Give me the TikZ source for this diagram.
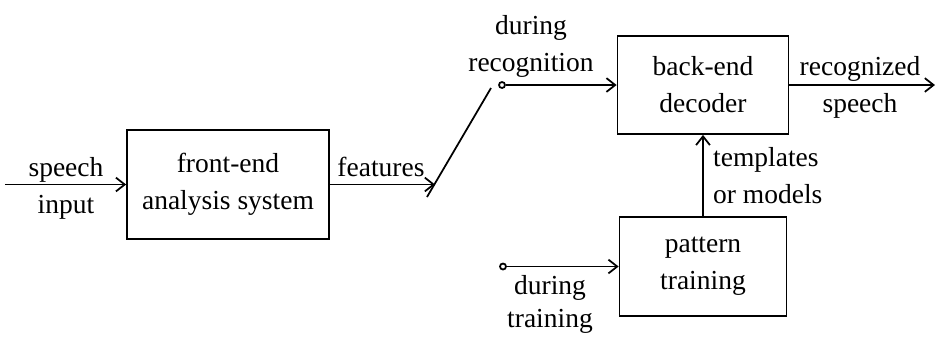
\documentclass[tikz,border=0pt]{standalone}
\usepackage{fontspec}
\setmainfont{Liberation Serif}
\usepackage{tikz}
\usetikzlibrary{arrows.meta}

\begin{document}
\begin{tikzpicture}[x=0.4pt,y=-0.4pt,line width=0.7pt,
  >={Straight Barb[length=3.5pt,width=5.5pt]},
  every node/.style={font=\fontsize{11}{14.8}\selectfont},
  block/.style={draw,align=center,inner sep=0pt},
  lbl/.style={align=center},
  contact/.style={draw,shape=circle,inner sep=0pt,minimum size=2.4pt}]
\useasboundingbox (0,0) rectangle (936,336);
\node[block,minimum width=80.8pt,minimum height=43.6pt] (front) at (228,184.5) {front-end\\analysis system};
\node[block,minimum width=68.4pt,minimum height=39.2pt] (back) at (703,85) {back-end\\decoder};
\node[block,minimum width=66.8pt,minimum height=39.6pt] (train) at (703,266.5) {pattern\\training};
\node[contact] (rec) at (502,85) {};
\node[contact] (trn) at (503,266.5) {};
\coordinate (in) at (5,184.5);
\coordinate (out) at (935,85);
\coordinate (feat) at (435,184.5);
\coordinate (lo) at (427,197);
\coordinate (hi) at (491,88);
\node[lbl] (speechlab) at (66,188) {speech\\input};
\node[anchor=base] (featlab) at (381,176) {features};
\node[lbl] (reclab) at (531,46) {during\\recognition};
\node[lbl] (outlab) at (860,87) {recognized\\speech};
\node[lbl,align=left,anchor=west] (tmpllab) at (704,176) {templates\\or models};
\node[lbl,font=\fontsize{11}{13.2}\selectfont] (trnlab) at (550,304) {during\\training};
\draw [->] (in) -- (front);
\draw [->] (front) -- (feat);
\draw (lo) -- (hi);
\draw [->] (rec) -- (back);
\draw [->] (back) -- (out);
\draw [->] (trn) -- (train);
\draw [->] (train) -- (back);
\end{tikzpicture}
\end{document}
